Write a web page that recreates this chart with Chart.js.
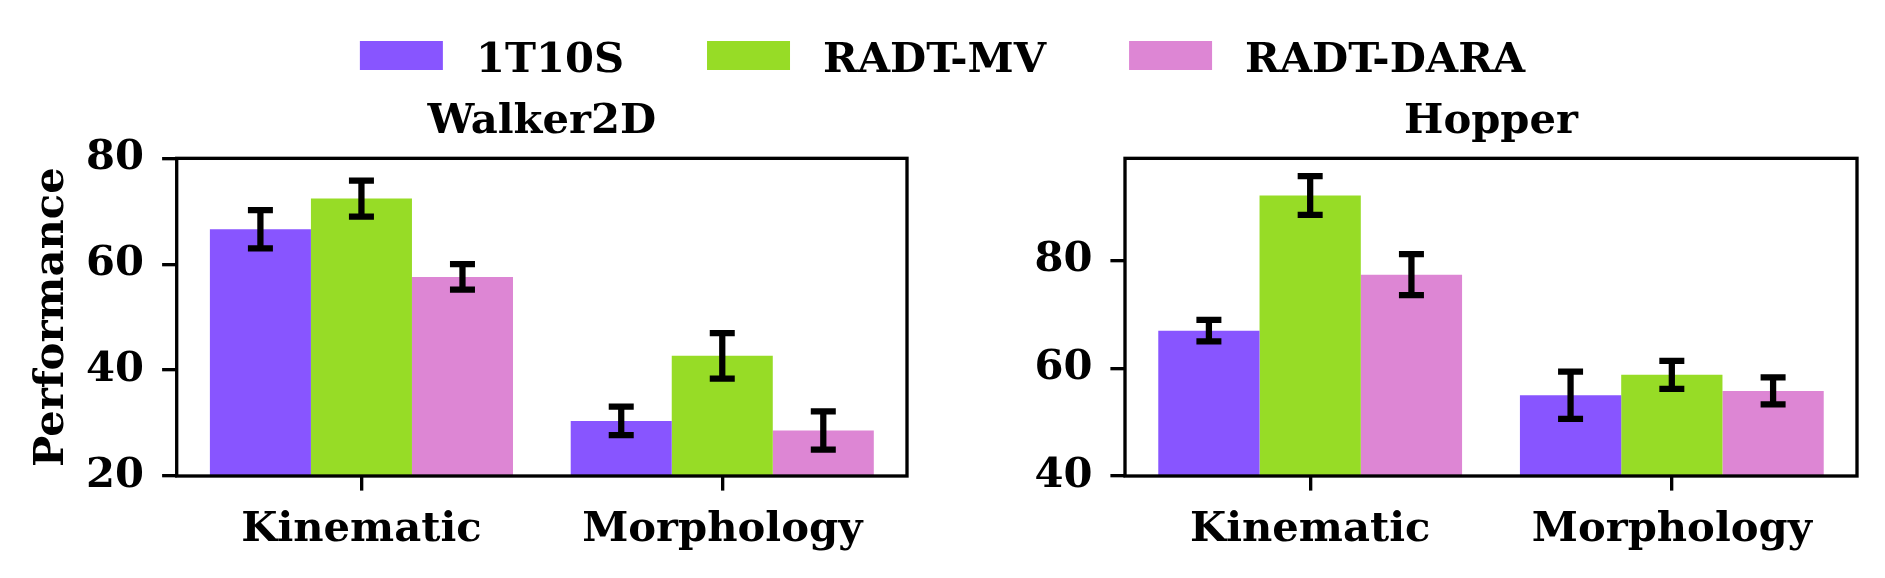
<!DOCTYPE html>
<html>
<head>
<meta charset="utf-8">
<script src="https://cdn.jsdelivr.net/npm/chart.js@4.4.1/dist/chart.umd.min.js"></script>
<style>
  html, body { margin: 0; background: #fff; }
  #wrap { position: relative; width: 1885px; height: 578px; background: #fff; }
  #wrap canvas { position: absolute; left: 0; top: 0; }
</style>
</head>
<body>
<div id="wrap">
  <canvas id="walker" width="1885" height="578"></canvas>
  <canvas id="hopper" width="1885" height="578"></canvas>
</div>
<script>
// ── DATA ──
const categories = ['Kinematic', 'Morphology'];
const methods    = ['1T10S', 'RADT-MV', 'RADT-DARA'];
const colors     = ['#8855ff', '#97dc26', '#dd86d4'];

const walker1T10S    = [66.6, 30.4];
const walker1T10SErr = [3.6, 2.7];
const walkerMV       = [72.4, 42.7];
const walkerMVErr    = [3.4, 4.3];
const walkerDARA     = [57.6, 28.6];
const walkerDARAErr  = [2.4, 3.6];

const hopper1T10S    = [67.0, 55.0];
const hopper1T10SErr = [2.0, 4.4];
const hopperMV       = [92.1, 58.8];
const hopperMVErr    = [3.6, 2.6];
const hopperDARA     = [77.4, 55.8];
const hopperDARAErr  = [3.8, 2.5];

const walkerTicks = [20, 40, 60, 80];
const hopperTicks = [40, 60, 80];

// ── STYLE ──
const FONT = { family: 'DejaVu Serif', weight: 'bold', size: 41.7 };
const LW = 3.33;       // 0.8pt spine at 300 dpi
const TICK_LEN = 14.6; // 3.5pt

// error bars drawn at each bar's centre, using the y scale
const errorBars = {
  id: 'errorBars',
  afterDatasetsDraw(chart, args, opts) {
    const { ctx } = chart;
    const y = chart.scales.y;
    ctx.save();
    ctx.strokeStyle = '#000';
    ctx.lineWidth = 6.25;
    opts.errors.forEach((errs, di) => {
      const meta = chart.getDatasetMeta(di);
      meta.data.forEach((bar, j) => {
        const v = chart.data.datasets[di].data[j].y;
        const top = y.getPixelForValue(v + errs[j]);
        const bot = y.getPixelForValue(v - errs[j]);
        ctx.beginPath();
        ctx.moveTo(bar.x, top); ctx.lineTo(bar.x, bot);
        ctx.moveTo(bar.x - 12.5, top); ctx.lineTo(bar.x + 12.5, top);
        ctx.moveTo(bar.x - 12.5, bot); ctx.lineTo(bar.x + 12.5, bot);
        ctx.stroke();
      });
    });
    ctx.restore();
  }
};

// full box round the plot area
const frame = {
  id: 'frame',
  afterDraw(chart) {
    const { ctx, chartArea: a } = chart;
    ctx.save();
    ctx.strokeStyle = '#000';
    ctx.lineWidth = LW;
    ctx.strokeRect(a.left, a.top, a.right - a.left, a.bottom - a.top);
    ctx.restore();
  }
};

// figure legend, one row centred over the whole canvas
const figLegend = {
  id: 'figLegend',
  afterDraw(chart) {
    const { ctx } = chart;
    const sw = 83, sh = 29, gap = 33, colGap = 83;
    ctx.save();
    ctx.font = `bold ${FONT.size}px "${FONT.family}"`;
    const widths = chart.data.datasets.map(d => ctx.measureText(d.label).width);
    const total = widths.reduce((s, w) => s + sw + gap + w, 0) + colGap * (widths.length - 1);
    let x = chart.width / 2 - total / 2;
    ctx.textBaseline = 'alphabetic';
    ctx.textAlign = 'left';
    chart.data.datasets.forEach((d, i) => {
      ctx.fillStyle = d.backgroundColor;
      ctx.fillRect(x, 41, sw, sh);
      ctx.fillStyle = '#000';
      ctx.fillText(d.label, x + sw + gap, 71.5);
      x += sw + gap + widths[i] + colGap;
    });
    ctx.restore();
  }
};

function makeChart(id, title, series, errors, yMin, yMax, ticks, pad, yWidth, yTitle, extra) {
  return new Chart(document.getElementById(id), {
    type: 'bar',
    data: {
      datasets: series.map((vals, i) => ({
        label: methods[i],
        data: vals.map((v, j) => ({ x: j, y: v })),
        backgroundColor: colors[i],
        borderWidth: 0,
        barPercentage: 1.0,
        categoryPercentage: 0.84,
      }))
    },
    options: {
      responsive: false, animation: false, events: [],
      devicePixelRatio: 1,
      layout: { padding: pad },
      plugins: {
        legend: { display: false },
        tooltip: { enabled: false },
        title: {
          display: true, text: title, color: '#000', font: FONT,
          fullSize: false, padding: { top: 0, bottom: 10.8 }
        },
        errorBars: { errors }
      },
      scales: {
        x: {
          type: 'linear', min: -0.512, max: 1.512, offset: false,
          afterBuildTicks: s => { s.ticks = categories.map((c, i) => ({ value: i })); },
          afterFit: s => { s.height = 102; },
          ticks: {
            callback: v => categories[v], color: '#000', font: FONT,
            padding: 14.2, maxRotation: 0, autoSkip: false
          },
          grid: { offset: false, drawOnChartArea: false, tickLength: TICK_LEN, lineWidth: LW, color: '#000' },
          border: { display: false }
        },
        y: {
          min: yMin, max: yMax,
          afterBuildTicks: s => { s.ticks = ticks.map(v => ({ value: v })); },
          afterFit: s => { s.width = yWidth; },
          ticks: { color: '#000', font: FONT, padding: 18 },
          grid: { drawOnChartArea: false, tickLength: TICK_LEN, lineWidth: LW, color: '#000' },
          border: { display: false },
          title: {
            display: !!yTitle, text: yTitle || '', color: '#000', font: FONT,
            padding: { top: 27, bottom: 0 }
          }
        }
      }
    },
    plugins: [errorBars, frame].concat(extra || [])
  });
}

document.addEventListener('DOMContentLoaded', () => {
  makeChart('walker', 'Walker2D',
    [walker1T10S, walkerMV, walkerDARA],
    [walker1T10SErr, walkerMVErr, walkerDARAErr],
    20, 80, walkerTicks,
    { left: 0, right: 978, top: 97.5, bottom: 0 }, 176.7, 'Performance', [figLegend]);

  makeChart('hopper', 'Hopper',
    [hopper1T10S, hopperMV, hopperDARA],
    [hopper1T10SErr, hopperMVErr, hopperDARAErr],
    40, 99, hopperTicks,
    { left: 1005, right: 28, top: 97.5, bottom: 0 }, 120, null);
});
</script>
</body>
</html>
